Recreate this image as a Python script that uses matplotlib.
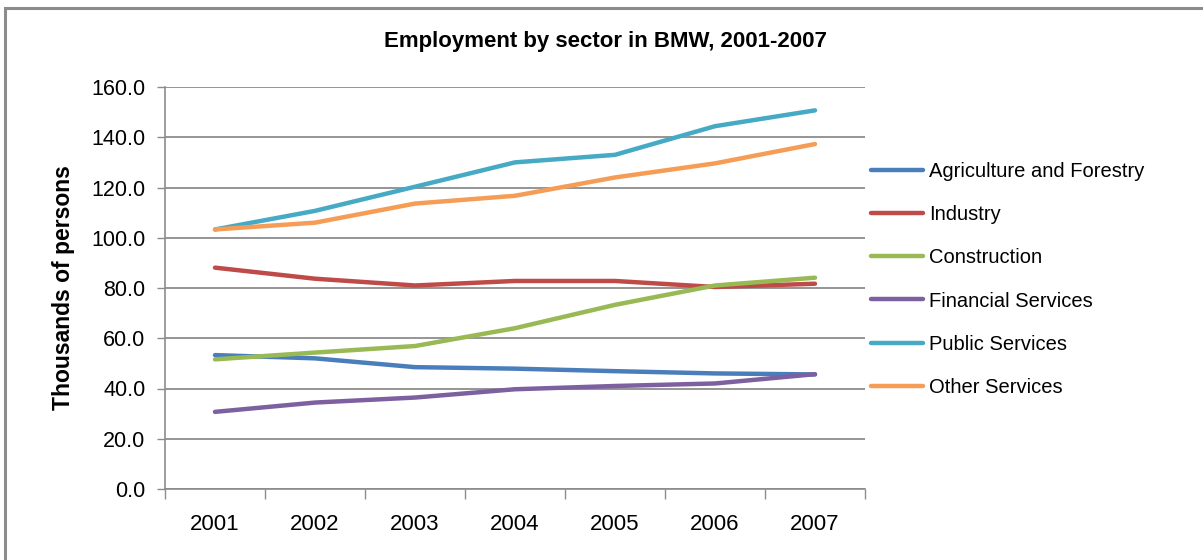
import matplotlib
matplotlib.use("Agg")
import matplotlib.pyplot as plt
from matplotlib.patches import Rectangle
from matplotlib.ticker import FixedLocator, NullFormatter

years = ["2001", "2002", "2003", "2004", "2005", "2006", "2007"]
agriculture = [53.3, 52.0, 48.5, 47.9, 46.9, 46.0, 45.6]
industry = [88.1, 83.7, 81.0, 82.8, 82.8, 80.4, 81.7]
construction = [51.6, 54.3, 56.9, 64.0, 73.3, 81.0, 84.1]
financial = [30.7, 34.4, 36.4, 39.7, 41.0, 42.0, 45.7]
public = [103.3, 110.7, 120.3, 130.0, 133.0, 144.4, 150.7]
other = [103.3, 106.0, 113.6, 116.7, 124.0, 129.6, 137.3]

series_names = ["Agriculture and Forestry", "Industry", "Construction",
                "Financial Services", "Public Services", "Other Services"]
series_values = [agriculture, industry, construction, financial, public, other]
colors = ["#4A7EBB", "#BE4B48", "#98B954", "#7D60A0", "#46AAC5", "#F59D56"]

plt.rcParams['font.family'] = ['Liberation Sans', 'DejaVu Sans']

W, H = 1203, 560
fig = plt.figure(figsize=(W / 100, H / 100), dpi=100)
fig.patch.set_facecolor("white")

# chart border (Excel chart area)
fig.patches.append(Rectangle((5 / W, -0.2), 1.2, 1 - 8 / H + 0.2, transform=fig.transFigure,
                             fill=False, edgecolor="#8C8C8C", linewidth=2.2))

ax = fig.add_axes([165 / W, 1 - 489 / H, 700 / W, 402 / H])
x = list(range(len(years)))
for name, vals, c in zip(series_names, series_values, colors):
    ax.plot(x, vals, color=c, linewidth=3.2, solid_capstyle="round", label=name)

ax.set_xlim(-0.5, len(years) - 0.5)
ax.set_ylim(0, 160)
ax.set_yticks(range(0, 161, 20))
ax.set_yticklabels([f"{v:.1f}" for v in range(0, 161, 20)], fontsize=15.5)
ax.yaxis.grid(True, color="#8C8C8C", linewidth=1.3)
ax.set_axisbelow(True)

ax.xaxis.set_major_locator(FixedLocator([i - 0.5 for i in range(len(years) + 1)]))
ax.xaxis.set_major_formatter(NullFormatter())
ax.xaxis.set_minor_locator(FixedLocator(x))
ax.set_xticklabels(years, minor=True, fontsize=16)
ax.tick_params(axis="x", which="major", length=7, width=1, color="#8C8C8C", direction="out")
ax.tick_params(axis="x", which="minor", length=0, pad=18)
ax.tick_params(axis="y", length=6, width=1, color="#8C8C8C", direction="out", pad=8)

for s in ["top", "right"]:
    ax.spines[s].set_visible(False)
for s in ["left", "bottom"]:
    ax.spines[s].set_color("#8C8C8C")
    ax.spines[s].set_linewidth(1.2)

ax.set_ylabel("Thousands of persons", fontsize=16.5, fontweight="bold", labelpad=12)

fig.text(606 / W, 1 - 42 / H, "Employment by sector in BMW, 2001-2007",
         ha="center", va="center", fontsize=16, fontweight="bold")

leg = ax.legend(loc="upper left", bbox_to_anchor=(871 / W, 1 - 162 / H),
                bbox_transform=fig.transFigure, frameon=False, fontsize=14.5,
                handlelength=2.6, handletextpad=0.3, labelspacing=1.2,
                borderaxespad=0, borderpad=0)

fig.savefig("out.png", dpi=100)
